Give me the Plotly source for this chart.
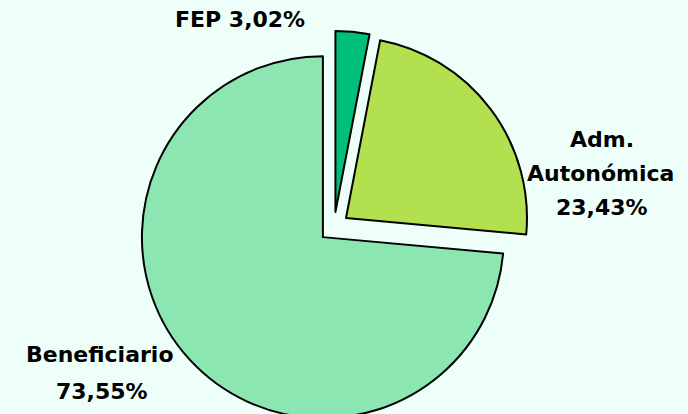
import plotly.graph_objects as go

labels = ["FEP", "Adm. Autonómica", "Beneficiario"]
label_lines = [["FEP"], ["Adm.", "Autonómica"], ["Beneficiario"]]
values = [3.02, 23.43, 73.55]
colors = ["#00BF7B", "#B3E04F", "#8BE6B1"]

W, H = 688, 424
BG = "#EEFFF9"

def fmt(v):
    return f"{v:.2f}".replace(".", ",") + "%"

fig = go.Figure(go.Pie(
    labels=labels,
    values=values,
    sort=False,
    direction="clockwise",
    rotation=0,
    pull=[0.083, 0.083, 0.083],
    marker=dict(colors=colors, line=dict(color="#000000", width=2)),
    textinfo="none",
    hoverinfo="label+percent",
    showlegend=False,
    domain=dict(x=[138 / W, 530 / W], y=[(H - 423) / H, (H - 31) / H]),
))

# label text lines built from data
lines = [
    (label_lines[0][0] + " " + fmt(values[0]), 240, 19.7),
    (label_lines[1][0], 602, 139.5),
    (label_lines[1][1], 600, 173),
    (fmt(values[1]), 602, 207.5),
    (label_lines[2][0], 100, 354.7),
    (fmt(values[2]), 101.5, 391),
]
annotations = []
for txt, xp, yp in lines:
    annotations.append(dict(
        text=txt, x=xp / W, y=(H - yp) / H, xref="paper", yref="paper",
        xanchor="center", yanchor="middle", showarrow=False,
        font=dict(family="DejaVu Sans", size=22, color="#000000", weight="bold"),
    ))

fig.update_layout(
    width=W, height=H,
    margin=dict(l=0, r=0, t=0, b=0),
    paper_bgcolor=BG, plot_bgcolor=BG,
    annotations=annotations,
)
fig.write_html(
    "out.html",
    config={"displayModeBar": False},
    post_script="document.body.style.margin='0';document.body.style.overflow='hidden';"
                "document.body.style.background='" + BG + "';",
)
